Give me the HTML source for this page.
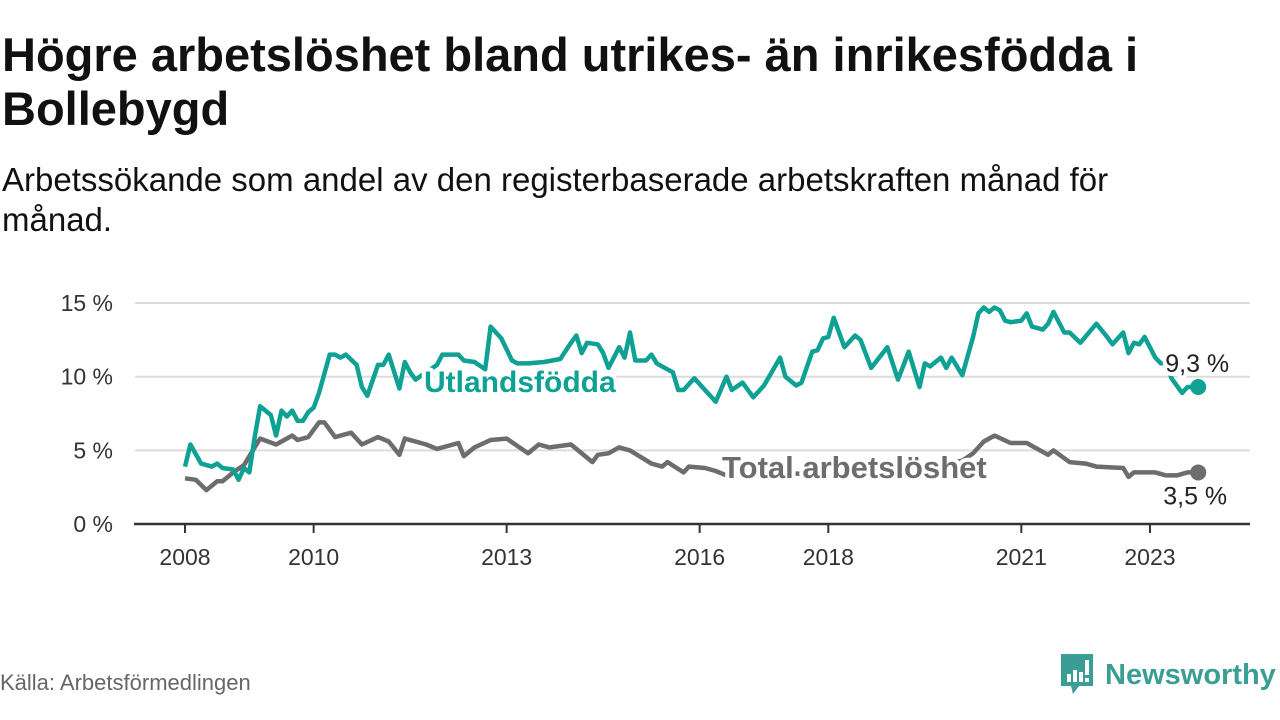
<!DOCTYPE html>
<html><head><meta charset="utf-8"><style>
body{margin:0;width:1280px;height:720px;background:#fff;overflow:hidden;font-family:"Liberation Sans",sans-serif;position:relative}
h1{position:absolute;left:2px;top:28px;margin:0;font-size:47px;line-height:54px;font-weight:bold;color:#111;width:1235px}
.sub{position:absolute;left:2px;top:160px;margin:0;font-size:33px;line-height:40px;color:#111;width:1180px}
.src{position:absolute;left:0;top:670px;font-size:22px;color:#666}
</style></head><body>
<h1>Högre arbetslöshet bland utrikes- än inrikesfödda i Bollebygd</h1>
<p class="sub">Arbetssökande som andel av den registerbaserade arbetskraften månad för månad.</p>
<svg id="chart" width="1280" height="720" style="position:absolute;left:0;top:0" xmlns="http://www.w3.org/2000/svg"></svg>
<div class="src">Källa: Arbetsförmedlingen</div>
<div style="position:absolute;left:1059px;top:654px;display:flex;align-items:center">
<svg width="36" height="42" viewBox="0 0 36 42"><path d="M2 0H34V32H20L14 40L12 32H2Z" fill="#3a9e94"/><rect x="8" y="20" width="4" height="8" fill="#fff"/><rect x="14" y="16" width="4" height="12" fill="#fff"/><rect x="20" y="18" width="4" height="10" fill="#fff"/><rect x="26" y="6" width="4" height="15" fill="#fff"/><rect x="26" y="24" width="4" height="4" fill="#fff"/></svg>
<span style="margin-left:10px;font-size:29px;font-weight:bold;color:#3a9e94">Newsworthy</span></div>
<script>
const months=[0,1,3,5,6,7,9,10,11,12,13,14,16,17,18,19,20,21,22,23,24,25,27,28,29,30,32,33,34,36,37,38,40,41,42,43,45,47,48,51,52,54,56,57,59,61,62,64,67,70,72,73,74,75,77,78,79,81,82,83,84,86,87,88,89,91,92,93,95,97,99,101,102,104,106,108,111,112,114,115,117,118,119,120,121,123,125,126,128,131,133,135,137,138,139,141,142,143,145,147,148,149,150,151,152,153,154,156,157,158,160,161,162,164,165,167,170,172,173,175,176,177,178,179,181,182,183,184,186,187,189];
const foreign=[3.9,5.4,4.1,3.9,4.1,3.8,3.7,3.0,3.8,3.5,5.9,8.0,7.4,6.0,7.7,7.3,7.7,7.0,7.0,7.6,7.9,8.9,11.5,11.5,11.3,11.5,10.8,9.3,8.7,10.8,10.8,11.5,9.2,11.0,10.3,9.8,10.3,10.8,11.5,11.5,11.1,11.0,10.5,13.4,12.6,11.1,10.9,10.9,11.0,11.2,12.3,12.8,11.6,12.3,12.2,11.6,10.6,12.0,11.3,13.0,11.1,11.1,11.5,10.9,10.7,10.3,9.1,9.1,9.9,9.1,8.3,10.0,9.1,9.6,8.6,9.4,11.3,10.0,9.4,9.6,11.7,11.8,12.6,12.7,14.0,12.0,12.8,12.5,10.6,12.0,9.8,11.7,9.3,10.9,10.7,11.3,10.6,11.3,10.1,12.7,14.3,14.7,14.4,14.7,14.5,13.8,13.7,13.8,14.3,13.4,13.2,13.6,14.4,13.0,13.0,12.3,13.6,12.7,12.2,13.0,11.6,12.3,12.2,12.7,11.3,10.9,11.0,9.9,8.9,9.3,9.3];
const monthsTotal=[0,2,4,6,7,9,11,13,14,17,20,21,23,25,26,28,31,33,36,38,40,41,45,47,51,52,54,57,60,64,66,68,72,76,77,79,81,83,87,89,90,93,94,97,99,101,105,110,115,120,125,130,135,140,145,147,149,151,154,157,161,162,165,168,170,175,176,177,180,181,183,185,187,189];
const total=[3.1,3.0,2.3,2.9,2.9,3.5,4.0,5.2,5.8,5.4,6.0,5.7,5.9,6.9,6.9,5.9,6.2,5.4,5.9,5.6,4.7,5.8,5.4,5.1,5.5,4.6,5.2,5.7,5.8,4.8,5.4,5.2,5.4,4.2,4.7,4.8,5.2,5.0,4.1,3.9,4.2,3.5,3.9,3.8,3.6,3.3,3.3,3.5,3.4,3.8,4.0,4.1,3.9,4.0,4.3,4.8,5.6,6.0,5.5,5.5,4.7,5.0,4.2,4.1,3.9,3.8,3.2,3.5,3.5,3.5,3.3,3.3,3.5,3.5];
const yTicks=[0,5,10,15];
const yTickLabels=["0 %","5 %","10 %","15 %"];
const xTickYears=[2008,2010,2013,2016,2018,2021,2023];

const NS="http://www.w3.org/2000/svg";
const svg=document.getElementById('chart');
const X0=185, PX_PER_MONTH=5.361, Y0=524, PX_PER_PCT=14.73;
const xm=m=>X0+m*PX_PER_MONTH;
const xy=yr=>xm((yr-2008)*12);
const yv=v=>Y0-v*PX_PER_PCT;
function mk(tag,attrs){const e=document.createElementNS(NS,tag);for(const k in attrs)e.setAttribute(k,attrs[k]);svg.appendChild(e);return e;}

yTicks.forEach((t,i)=>{
  if(t>0){const g=mk('line',{x1:135,x2:1250,y1:yv(t),y2:yv(t),stroke:'#dcdcdc','stroke-width':2});
  
  }
  const tx=mk('text',{x:113,y:yv(t)+8,'text-anchor':'end','font-size':23,fill:'#333','font-family':'Liberation Sans, sans-serif'});
  tx.textContent=yTickLabels[i];
  
  
});
const ax=mk('line',{x1:134,x2:1250,y1:Y0,y2:Y0,stroke:'#333','stroke-width':2.5});


xTickYears.forEach(yr=>{
  const tk=mk('line',{x1:xy(yr),x2:xy(yr),y1:Y0,y2:Y0+9,stroke:'#333','stroke-width':2});
  
  
  const tx=mk('text',{x:xy(yr),y:Y0+41,'text-anchor':'middle','font-size':23,fill:'#333','font-family':'Liberation Sans, sans-serif'});
  tx.textContent=yr;
  
  
});

function line(ms,vals,color,name){
  const d=ms.map((m,i)=>(i?'L':'M')+xm(m).toFixed(1)+','+yv(vals[i]).toFixed(1)).join('');
  const p=mk('path',{d:d,fill:'none',stroke:color,'stroke-width':4.5,'stroke-linejoin':'round'});
  
  
  const n=ms.length-1;
  const c=mk('circle',{cx:xm(ms[n]),cy:yv(vals[n]),r:8,fill:color});
  
  
  return [xm(ms[n]),yv(vals[n])];
}
const endT=line(monthsTotal,total,'#6d6d70','total-line');
const endF=line(months,foreign,'#0ea194','foreign-born-line');

function label(txt,x,y,size,color,weight,name){
  const t=mk('text',{x:x,y:y,'font-size':size,fill:color,'font-weight':weight,stroke:'#fff','stroke-width':8,'paint-order':'stroke','stroke-linejoin':'round','font-family':'Liberation Sans, sans-serif'});
  t.textContent=txt;
  
  
}
label('Utlandsfödda',424,392,30,'#0ea194','bold','foreign-born-label');
label('Total arbetslöshet',722,478,31,'#6d6d70','bold','total-label');
label('9,3 %',endF[0]-33,endF[1]-15,25,'#222','normal','foreign-end-value');
label('3,5 %',endT[0]-35,endT[1]+32,25,'#222','normal','total-end-value');
</script>
</body></html>
